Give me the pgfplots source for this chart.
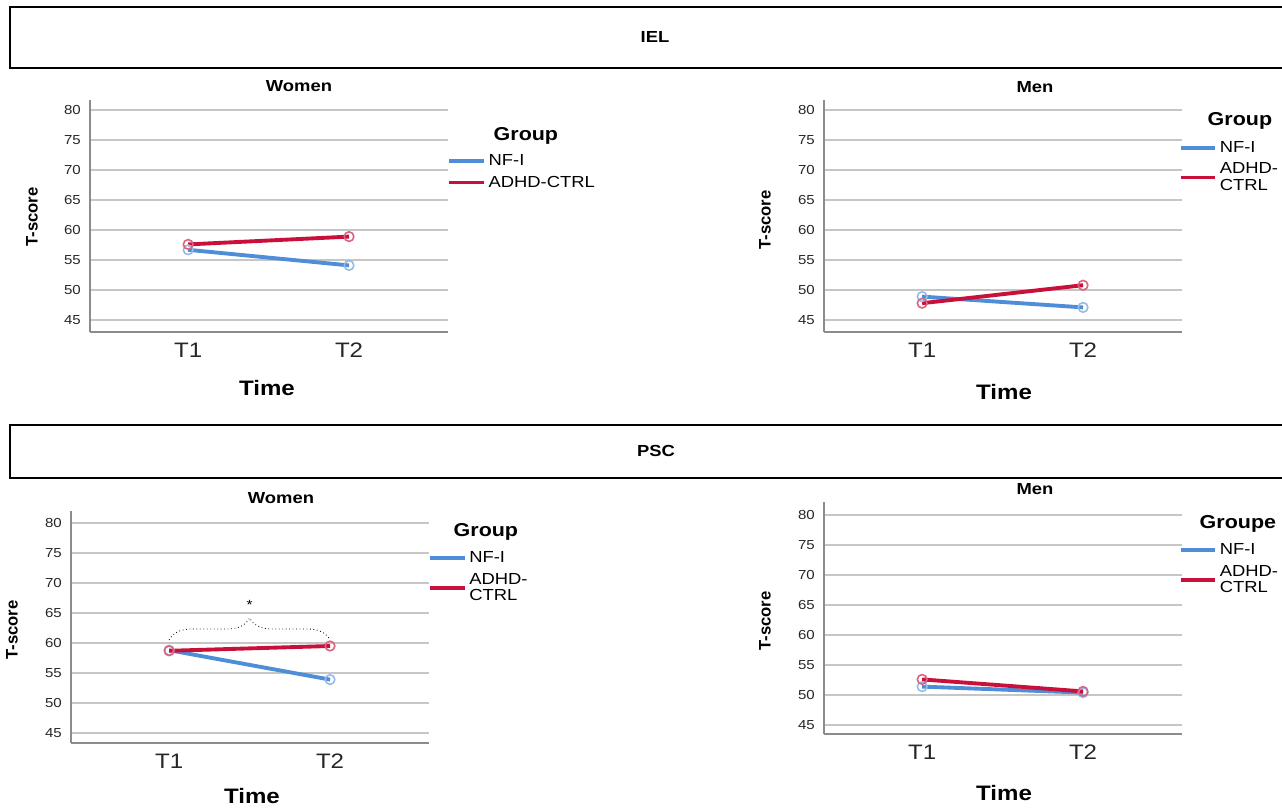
\documentclass[border=0pt]{standalone}
\usepackage{pgfplots}
\pgfplotsset{compat=1.18}
\usepackage{fontspec}
\setmainfont{Liberation Sans}[FakeStretch=1.15]
\newfontfamily\plainsans{Liberation Sans}
\usetikzlibrary{decorations.pathreplacing}
\definecolor{nfblue}{RGB}{78,141,216}
\definecolor{ctrlred}{RGB}{200,16,58}

\pgfplotsset{
  spss/.style={
    scale only axis, width=268.5pt, height=174pt,
    anchor=south west,
    xmin=0.39, xmax=2.615,
    xtick={1,2}, xticklabels={T1,T2},
    ytick={45,50,...,80},
    axis x line*=bottom, axis y line*=left,
    axis line style={black!45, line width=1.3pt, -},
    major tick length=0pt,
    ymajorgrids, grid style={gray!45, line width=1.4pt},
    /pgf/number format/assume math mode=true,
    yticklabel style={font=\fontsize{9.8}{10}\selectfont, text=black!85, inner sep=0pt, xshift=-6.75pt},
    xticklabel style={font=\fontsize{15.7}{16}\selectfont, text=black!85, inner sep=0pt, yshift=-7.9pt},
    legend cell align=left,
    legend style={draw=none, fill=none, inner sep=0pt, row sep=2.4pt, anchor=north west,
      font=\fontsize{12}{12.5}\selectfont, nodes={inner sep=2pt, align=left}},
    legend image code/.code={\draw[#1,mark=none,line width=2.8pt] (0pt,0pt) -- (26pt,0pt);},
  },
  nf/.style={color=nfblue, line width=2.9pt, mark=o, mark size=3.6pt,
    mark options={draw=nfblue!60!white, line width=1.2pt}},
  ctrl/.style={color=ctrlred, line width=2.9pt, mark=o, mark size=3.6pt,
    mark options={draw=ctrlred!65!white, line width=1.2pt}},
}

\begin{document}
\begin{tikzpicture}[x=0.75pt,y=-0.75pt]
\useasboundingbox (0,0) rectangle (1282,808);

% header boxes
\draw[line width=2.2pt] (10,7) rectangle (1300,68);
\node[font=\fontsize{12}{13}\selectfont\bfseries] at (655,37) {IEL};
\draw[line width=2.2pt] (10,425) rectangle (1300,478);
\node[font=\fontsize{12}{13}\selectfont\bfseries] at (656,451) {PSC};

% ---------- IEL Women ----------
\begin{axis}[spss, at={(67.5pt,-249pt)}, ymin=43, ymax=81.667,
  legend style={at={(0.998,0.778)}}]
\addplot[nf] coordinates {(1,56.7) (2,54.1)};
\addplot[ctrl] coordinates {(1,57.6) (2,58.9)};
\legend{NF-I,ADHD-CTRL}
\end{axis}
\node[font=\fontsize{12}{13}\selectfont\bfseries] at (299,86) {Women};
\node[font=\fontsize{15.7}{16}\selectfont\bfseries] at (267,388) {Time};
\node[font=\plainsans\fontsize{12.5}{13}\selectfont\bfseries, rotate=90] at (32,217) {T-score};
\node[font=\fontsize{14}{15}\selectfont\bfseries, anchor=base west] at (489,140) {Group};

% ---------- IEL Men ----------
\begin{axis}[spss, at={(618pt,-249pt)}, ymin=43, ymax=81.667,
  legend style={at={(0.99,0.835)}}]
\addplot[nf] coordinates {(1,48.9) (2,47.1)};
\addplot[ctrl] coordinates {(1,47.8) (2,50.8)};
\legend{NF-I,ADHD-\\CTRL}
\end{axis}
\node[font=\fontsize{12}{13}\selectfont\bfseries] at (1035,87) {Men};
\node[font=\fontsize{15.7}{16}\selectfont\bfseries] at (1004,392) {Time};
\node[font=\plainsans\fontsize{12.5}{13}\selectfont\bfseries, rotate=90] at (765,220) {T-score};
\node[font=\fontsize{14}{15}\selectfont\bfseries, anchor=base west] at (1203,125) {Group};

% ---------- PSC Women ----------
\begin{axis}[spss, at={(53.25pt,-557.25pt)}, ymin=43.33, ymax=82.0,
  legend style={at={(0.997,0.838)}}]
\addplot[nf] coordinates {(1,58.8) (2,53.9)};
\addplot[ctrl] coordinates {(1,58.7) (2,59.5)};
\legend{NF-I,ADHD-\\CTRL}
\draw[decorate, decoration={brace, amplitude=16.5pt}, dotted, line width=0.6pt]
  (axis cs:1,60.5) -- (axis cs:2,60.5);
\node[font=\fontsize{10}{10}\selectfont] at (axis cs:1.5,66.4) {*};
\end{axis}
\node[font=\fontsize{12}{13}\selectfont\bfseries] at (281,498) {Women};
\node[font=\fontsize{15.7}{16}\selectfont\bfseries] at (252,796) {Time};
\node[font=\plainsans\fontsize{12.5}{13}\selectfont\bfseries, rotate=90] at (12,630) {T-score};
\node[font=\fontsize{14}{15}\selectfont\bfseries, anchor=base west] at (449,536) {Group};

% ---------- PSC Men ----------
\begin{axis}[spss, at={(618pt,-550.5pt)}, ymin=43.5, ymax=82.17,
  legend style={at={(0.99,0.834)}}]
\addplot[nf] coordinates {(1,51.4) (2,50.4)};
\addplot[ctrl] coordinates {(1,52.6) (2,50.6)};
\legend{NF-I,ADHD-\\CTRL}
\end{axis}
\node[font=\fontsize{12}{13}\selectfont\bfseries] at (1035,489) {Men};
\node[font=\fontsize{15.7}{16}\selectfont\bfseries] at (1004,793) {Time};
\node[font=\plainsans\fontsize{12.5}{13}\selectfont\bfseries, rotate=90] at (765,621) {T-score};
\node[font=\fontsize{14}{15}\selectfont\bfseries, anchor=base west] at (1195,528) {Groupe};
\end{tikzpicture}
\end{document}
